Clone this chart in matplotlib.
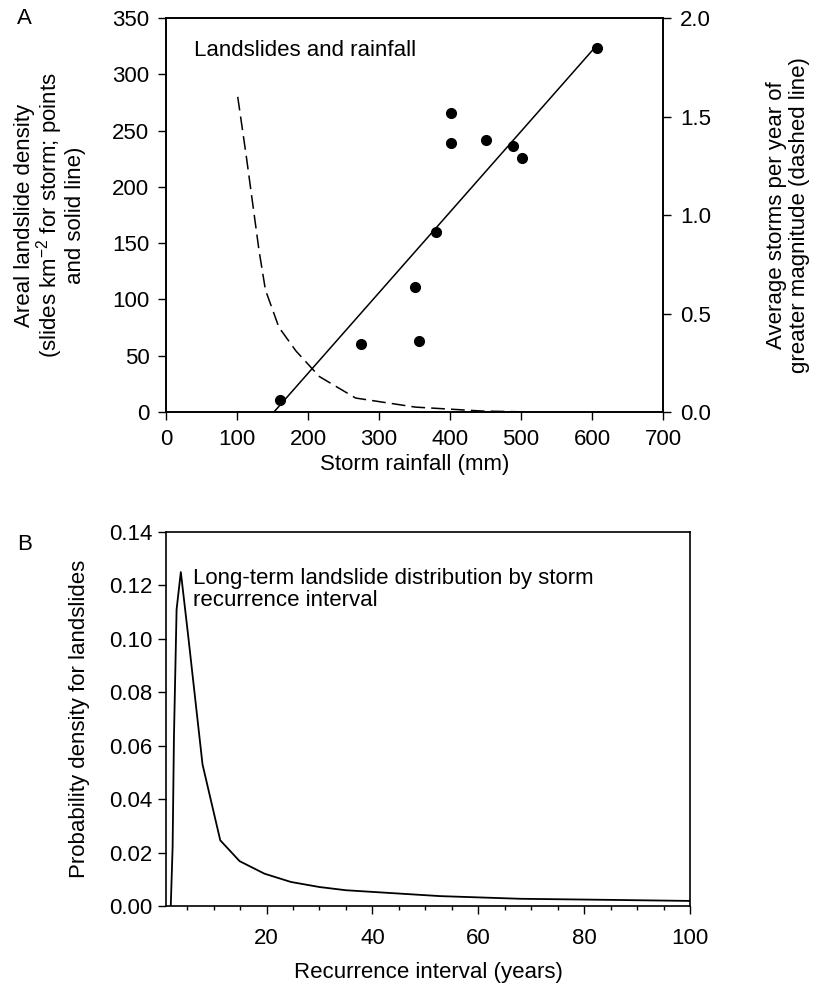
import matplotlib
matplotlib.use("Agg")
import matplotlib.pyplot as plt
from matplotlib.ticker import MultipleLocator, FormatStrFormatter

plt.rcParams['font.family'] = ['Liberation Sans', 'DejaVu Sans']
plt.rcParams['mathtext.fontset'] = 'custom'
plt.rcParams['mathtext.rm'] = 'Liberation Sans'
plt.rcParams['mathtext.it'] = 'Liberation Sans:italic'
plt.rcParams['font.size'] = 16

# panel A: storm rainfall vs landslide density
rain_mm = [161, 274, 350, 356, 380, 401, 401, 451, 488, 502, 607]
slide_density = [11, 60, 111, 63.5, 160, 265.6, 238.6, 241.5, 236, 226, 323]

fit_rain = [152, 607]
fit_density = [0, 326]

# storms per year of greater magnitude (dashed curve)
freq_rain = [101, 113, 131, 140, 159, 183, 216, 267, 351, 445, 515]
freq_storms = [1.60, 1.30, 0.82, 0.62, 0.43, 0.31, 0.18, 0.071, 0.025, 0.005, 0.0]

# panel B: landslide pdf by recurrence interval
recur_years = [1.9, 2.25, 2.5, 3.0, 3.8, 5.2, 7.9, 11.25, 14.9, 19.6, 24.6,
               30, 35, 52.8, 68, 84.6, 100]
pdf_vals = [0.0, 0.022, 0.063, 0.111, 0.125, 0.101, 0.053, 0.0246, 0.0168,
            0.0121, 0.009, 0.0071, 0.0059, 0.0037, 0.0027, 0.0023, 0.0019]

fig = plt.figure(figsize=(8.23, 9.85), dpi=100)

ax1 = fig.add_axes([0.2017, 0.5817, 0.604, 0.400])
ax1.plot(fit_rain, fit_density, color='black', lw=1.1)
ax1.plot(rain_mm, slide_density, 'o', color='black', ms=7)
ax1.set_xlim(0, 700)
ax1.set_ylim(0, 350)
ax1.set_xticks(range(0, 701, 100))
ax1.set_yticks(range(0, 351, 50))
ax1.set_xlabel("Storm rainfall (mm)", labelpad=3)
ax1.set_ylabel("Areal landslide density\n(slides km$^{-2}$ for storm; points\nand solid line)",
               labelpad=19, linespacing=0.98)
ax1.text(40, 321, "Landslides and rainfall", va='center', ha='left')

ax2 = ax1.twinx()
ax2.plot(freq_rain, freq_storms, color='black', lw=1.1, dashes=(9, 4))
ax2.set_ylim(0, 2.0)
ax2.set_yticks([0.0, 0.5, 1.0, 1.5, 2.0])
ax2.yaxis.set_major_formatter(FormatStrFormatter('%.1f'))
ax2.set_ylabel("Average storms per year of\ngreater magnitude (dashed line)",
               labelpad=40, linespacing=1.1)

for a in (ax1, ax2):
    a.tick_params(direction='out', length=6, width=1.0, labelsize=16, pad=6)
    for s in a.spines.values():
        s.set_linewidth(1.2)

ax3 = fig.add_axes([0.2017, 0.0802, 0.6367, 0.3797])
ax3.plot(recur_years, pdf_vals, color='black', lw=1.3)
ax3.set_xlim(1, 100)
ax3.set_ylim(0, 0.14)
ax3.set_xticks([20, 40, 60, 80, 100])
ax3.xaxis.set_minor_locator(MultipleLocator(5))
ax3.set_yticks([0.0, 0.02, 0.04, 0.06, 0.08, 0.10, 0.12, 0.14])
ax3.yaxis.set_major_formatter(FormatStrFormatter('%.2f'))
ax3.tick_params(direction='out', length=6, width=1.0, labelsize=16)
ax3.tick_params(axis='x', pad=10)
ax3.tick_params(which='minor', direction='out', length=3, width=1.0)
for s in ax3.spines.values():
    s.set_linewidth(1.2)
ax3.set_xlabel("Recurrence interval (years)", labelpad=9)
ax3.set_ylabel("Probability density for landslides", labelpad=14)
ax3.text(0.052, 0.905, "Long-term landslide distribution by storm\nrecurrence interval",
         transform=ax3.transAxes, va='top', ha='left', linespacing=1.12)

fig.text(17 / 823, 1 - 18 / 985, "A", ha='left', va='center', fontsize=16)
fig.text(17 / 823, 1 - 545 / 985, "B", ha='left', va='center', fontsize=16)

fig.savefig("out.png", dpi=100)
